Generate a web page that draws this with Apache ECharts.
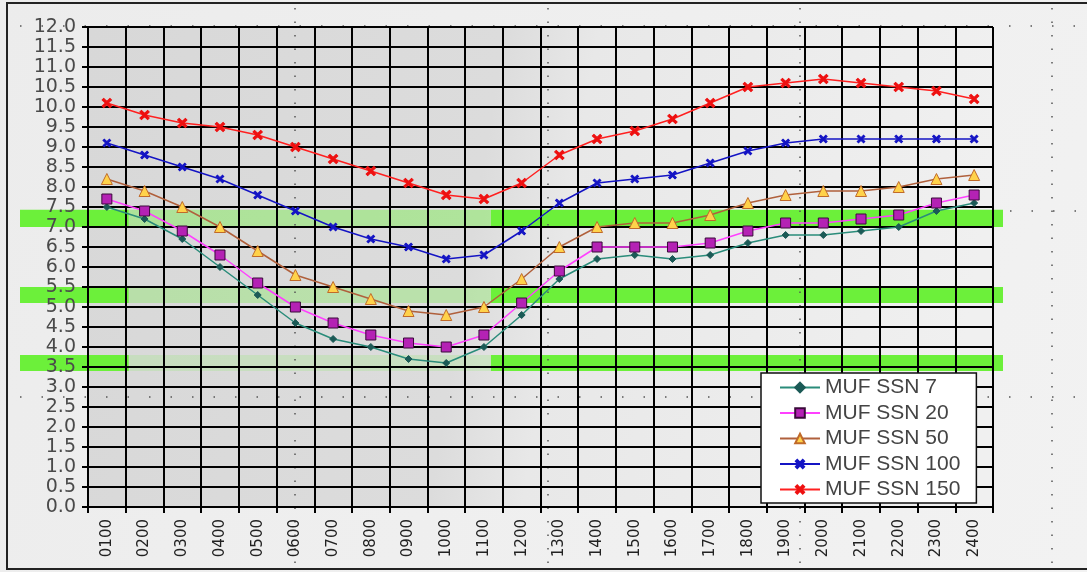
<!DOCTYPE html>
<html>
<head>
<meta charset="utf-8">
<script src="https://cdn.jsdelivr.net/npm/echarts@6/dist/echarts.min.js"></script>
<style>
  html, body { margin: 0; padding: 0; background: #fff; }
  #chart { width: 1087px; height: 572px; }
</style>
</head>
<body>
<div id="chart"></div>
<script>
// hours of the day (UTC)
var hours = ['0100','0200','0300','0400','0500','0600','0700','0800','0900','1000','1100','1200',
             '1300','1400','1500','1600','1700','1800','1900','2000','2100','2200','2300','2400'];
// MUF (MHz) per sunspot number
var ssn7   = [7.5,7.2,6.7,6.0,5.3,4.6,4.2,4.0,3.7,3.6,4.0,4.8,5.7,6.2,6.3,6.2,6.3,6.6,6.8,6.8,6.9,7.0,7.4,7.6];
var ssn20  = [7.7,7.4,6.9,6.3,5.6,5.0,4.6,4.3,4.1,4.0,4.3,5.1,5.9,6.5,6.5,6.5,6.6,6.9,7.1,7.1,7.2,7.3,7.6,7.8];
var ssn50  = [8.2,7.9,7.5,7.0,6.4,5.8,5.5,5.2,4.9,4.8,5.0,5.7,6.5,7.0,7.1,7.1,7.3,7.6,7.8,7.9,7.9,8.0,8.2,8.3];
var ssn100 = [9.1,8.8,8.5,8.2,7.8,7.4,7.0,6.7,6.5,6.2,6.3,6.9,7.6,8.1,8.2,8.3,8.6,8.9,9.1,9.2,9.2,9.2,9.2,9.2];
var ssn150 = [10.1,9.8,9.6,9.5,9.3,9.0,8.7,8.4,8.1,7.8,7.7,8.1,8.8,9.2,9.4,9.7,10.1,10.5,10.6,10.7,10.6,10.5,10.4,10.2];
// band limits (MHz) of the green frequency bands
var bands = [[7.0, 7.43], [5.1, 5.5], [3.4, 3.8]];
var bandFade = [0.4, 0.3, 0.16];

var crossPath = 'path://M4,0H6V4H10V6H6V10H4V6H0V4H4Z';

function line(name, data, color, symbol, size, fill, border) {
    return {
        name: name,
        type: 'line',
        data: data,
        symbol: symbol,
        symbolSize: size,
        symbolRotate: symbol === crossPath ? 45 : 0,
        showAllSymbol: true,
        lineStyle: { color: color, width: 1.5 },
        itemStyle: { color: fill, borderColor: border, borderWidth: 1 },
        z: 5
    };
}

var chart = echarts.init(document.getElementById('chart'));
var option = {
    animation: false,
    backgroundColor: {
        type: 'linear', x: 0, y: 0, x2: 1, y2: 1,
        colorStops: [{offset: 0, color: '#ececec'}, {offset: 1, color: '#f2f2f2'}]
    },
    grid: { left: 88, right: 94, top: 27, bottom: 65 },
    legend: {
        orient: 'vertical',
        left: 761, top: 373,
        padding: [4, 16, 3, 18],
        itemWidth: 40, itemHeight: 12,
        itemGap: 4.5,
        backgroundColor: '#ffffff',
        borderColor: '#111', borderWidth: 1.5,
        textStyle: { fontFamily: 'Liberation Sans', fontSize: 21, lineHeight: 20, color: '#444' },
        data: ['MUF SSN 7', 'MUF SSN 20', 'MUF SSN 50', 'MUF SSN 100', 'MUF SSN 150']
    },
    xAxis: {
        type: 'category',
        data: hours,
        boundaryGap: true,
        axisLine: { lineStyle: { color: '#000', width: 2 } },
        axisTick: { show: true, length: 6, interval: 0, lineStyle: { color: '#000', width: 2 } },
        axisLabel: {
            interval: 0, rotate: 90, margin: 12,
            fontFamily: 'DejaVu Sans', fontSize: 15, color: '#222'
        },
        splitLine: { show: true, interval: 0, lineStyle: { color: '#000', width: 2 } }
    },
    yAxis: {
        type: 'value',
        min: 0, max: 12, interval: 0.5,
        axisLine: { show: true, lineStyle: { color: '#000', width: 2 } },
        axisTick: { show: true, length: 6, lineStyle: { color: '#000', width: 2 } },
        axisLabel: {
            margin: 12,
            fontFamily: 'DejaVu Sans', fontSize: 19, color: '#4a4a4a',
            formatter: function (v) { return v.toFixed(1); }
        },
        splitLine: { show: true, lineStyle: { color: '#000', width: 2 } }
    },
    series: [
        line('MUF SSN 7',   ssn7,   '#2a8c7a', 'diamond',   7,  '#1b5a56', '#1b5a56'),
        line('MUF SSN 20',  ssn20,  '#ff40ff', 'rect',      10, '#b422b4', '#3a0a3a'),
        line('MUF SSN 50',  ssn50,  '#b0603c', 'triangle',  11, '#ffd24a', '#c06a2a'),
        line('MUF SSN 100', ssn100, '#1414c4', crossPath,   9,  '#1414c4', '#1414c4'),
        line('MUF SSN 150', ssn150, '#ff2020', crossPath,   11, '#ee1010', '#ee1010')
    ]
};
chart.setOption(option);

// background of plot, green bands and dotted artefacts, placed from the axes
var yTop = chart.convertToPixel({yAxisIndex: 0}, 12);
var yBot = chart.convertToPixel({yAxisIndex: 0}, 0);
var x0 = chart.convertToPixel({xAxisIndex: 0}, hours[0]);
var x1 = chart.convertToPixel({xAxisIndex: 0}, hours[1]);
var step = x1 - x0;
var gLeft = x0 - step / 2, gRight = gLeft + step * hours.length;
var leftEnd = gLeft + step + 3;
var rightStart = chart.convertToPixel({xAxisIndex: 0}, '1100') + 7;

var gfx = [{
    type: 'rect', z: -10,
    shape: { x: gLeft, y: yTop, width: gRight - gLeft, height: yBot - yTop },
    style: { fill: {
        type: 'linear', x: 0, y: 0, x2: 1, y2: 0.3,
        colorStops: [{offset: 0, color: '#d8d8d8'}, {offset: 0.45, color: '#dcdcdc'},
                     {offset: 0.55, color: '#e8e8e8'}, {offset: 1, color: '#f0f0f0'}]
    } }
}];
bands.forEach(function (b, i) {
    var ya = chart.convertToPixel({yAxisIndex: 0}, b[1]);
    var yb = chart.convertToPixel({yAxisIndex: 0}, b[0]);
    gfx.push({ type: 'rect', z: -5, shape: { x: 20, y: ya, width: leftEnd - 20, height: yb - ya },
               style: { fill: '#6cf03a' } });
    gfx.push({ type: 'rect', z: -5, shape: { x: leftEnd, y: ya, width: rightStart - leftEnd, height: yb - ya },
               style: { fill: 'rgba(108,240,58,' + bandFade[i] + ')' } });
    gfx.push({ type: 'rect', z: -5, shape: { x: rightStart, y: ya, width: 1003 - rightStart, height: yb - ya },
               style: { fill: '#6cf03a' } });
});
[295, 548, 800, 1052].forEach(function (x) {
    gfx.push({ type: 'line', z: -4, shape: { x1: x, y1: 8, x2: x, y2: 566 },
               style: { stroke: '#555', lineWidth: 1.5, lineDash: [1.5, 12] } });
});
[26, 397].forEach(function (y) {
    gfx.push({ type: 'line', z: -4, shape: { x1: 20, y1: y, x2: 1085, y2: y },
               style: { stroke: '#555', lineWidth: 1.5, lineDash: [1.5, 20] } });
});
gfx.push({ type: 'line', z: -4, shape: { x1: 1010, y1: 211, x2: 1085, y2: 211 },
           style: { stroke: '#555', lineWidth: 1.5, lineDash: [1.5, 20] } });
gfx.push({ type: 'rect', z: 10, silent: true,
           shape: { x: 7, y: 3, width: 1090, height: 566 },
           style: { fill: 'none', stroke: '#222', lineWidth: 2 } });
chart.setOption({ graphic: gfx });
</script>
</body>
</html>
